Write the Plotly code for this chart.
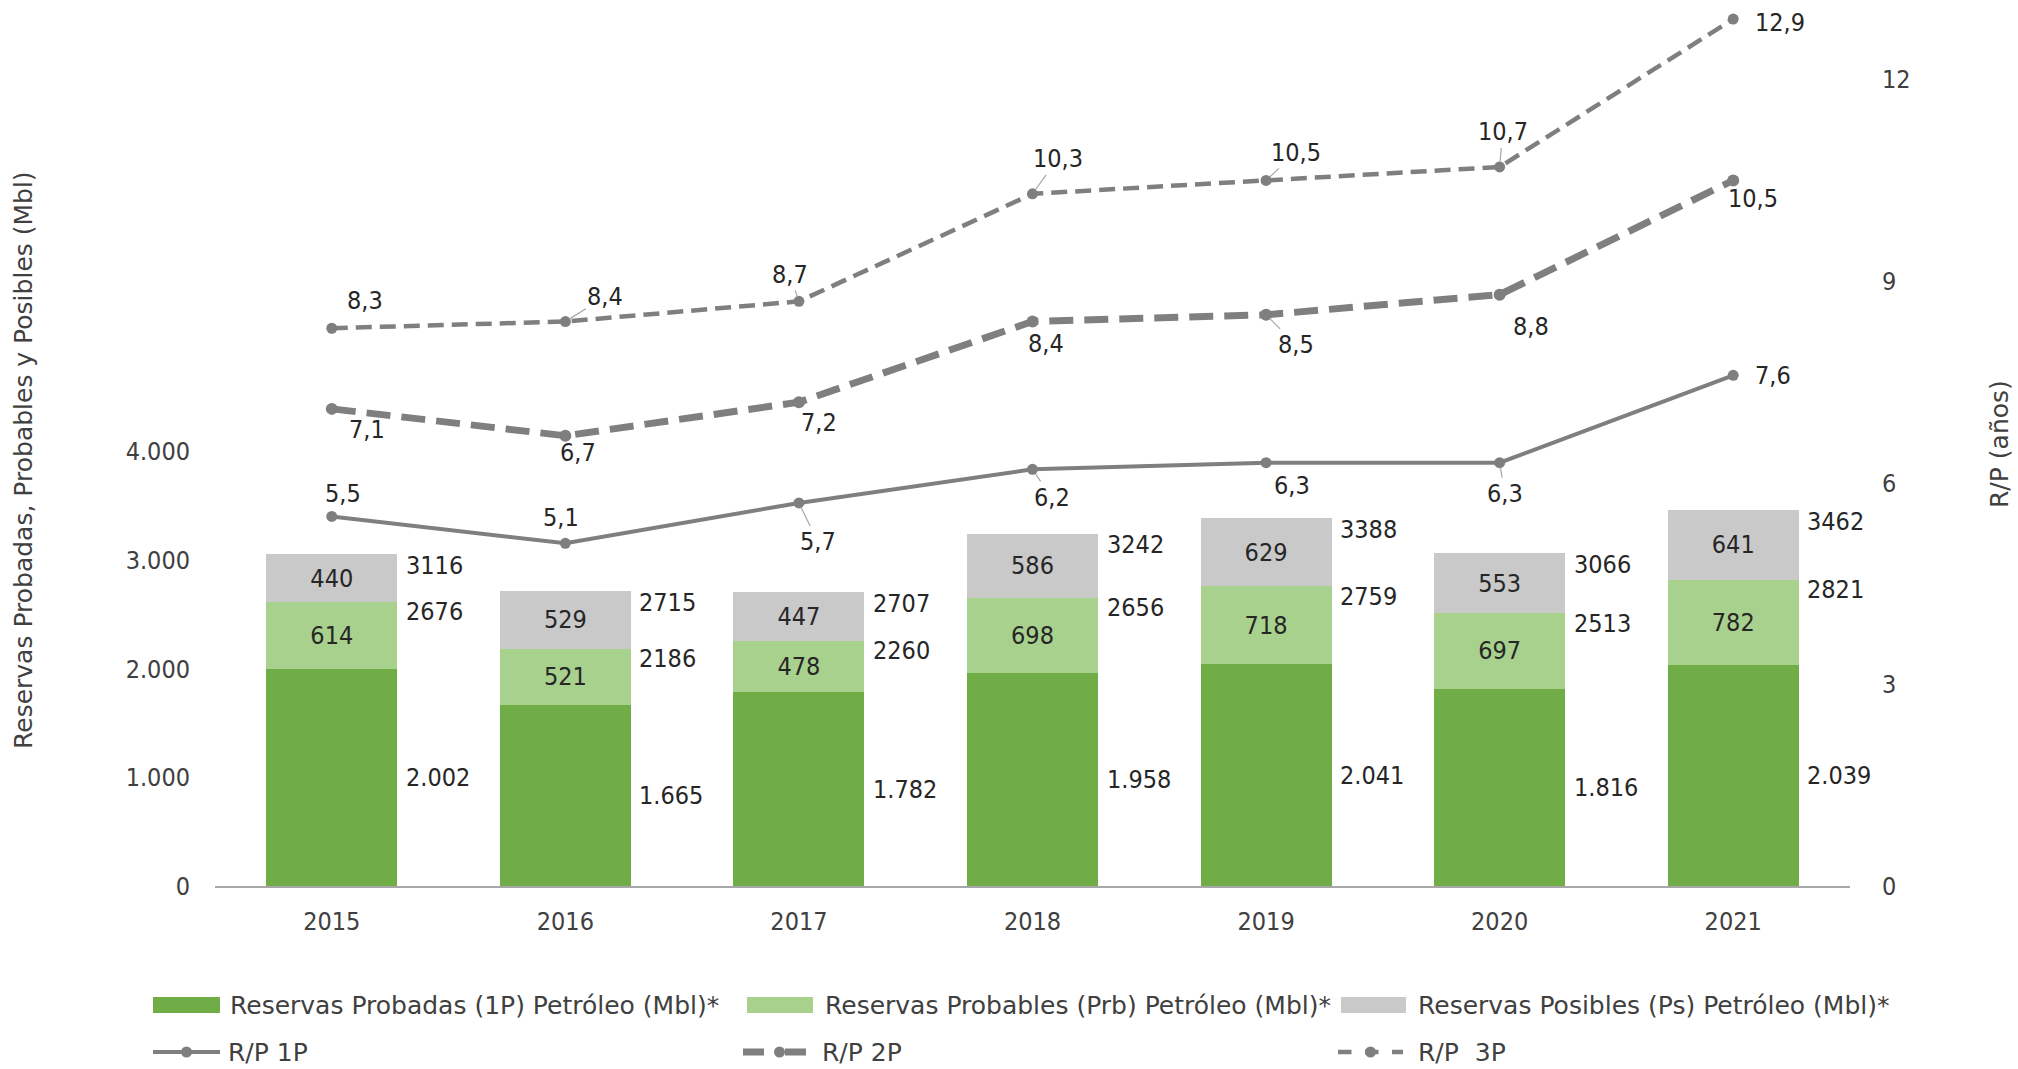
import plotly.graph_objects as go

# ---------------- data ----------------
years = ["2015", "2016", "2017", "2018", "2019", "2020", "2021"]
probadas_1p = [2002, 1665, 1782, 1958, 2041, 1816, 2039]
probables_prb = [614, 521, 478, 698, 718, 697, 782]
posibles_ps = [440, 529, 447, 586, 629, 553, 641]
label_1p = ["2.002", "1.665", "1.782", "1.958", "2.041", "1.816", "2.039"]
label_2p_total = ["2676", "2186", "2260", "2656", "2759", "2513", "2821"]
label_3p_total = ["3116", "2715", "2707", "3242", "3388", "3066", "3462"]
rp_1p = [5.5, 5.1, 5.7, 6.2, 6.3, 6.3, 7.6]
rp_2p = [7.1, 6.7, 7.2, 8.4, 8.5, 8.8, 10.5]
rp_3p = [8.3, 8.4, 8.7, 10.3, 10.5, 10.7, 12.9]
left_tickvals = [0, 1000, 2000, 3000, 4000]
left_ticktext = ["0", "1.000", "2.000", "3.000", "4.000"]
right_tickvals = [0, 3, 6, 9, 12]

# ---------------- style ----------------
C_1P = "#70AD47"
C_PRB = "#A9D18E"
C_PS = "#C9C9C9"
C_LINE = "#7F7F7F"
C_TEXT = "#262626"
C_AXTXT = "#404040"
NUM_FONT = "DejaVu Sans Condensed, DejaVu Sans, sans-serif"
TXT_FONT = "DejaVu Sans, Verdana, sans-serif"
FS = 25

W, H = 2018, 1069
L, R, T, B = 215, 1850, 10, 886


def px(x):
    return (x - L) / (R - L)


def py(y):
    return (B - y) / (B - T)


left_max = (B - T) / 0.1086
right_max = (B - T) / 67.2

fig = go.Figure()

fig.add_trace(go.Bar(x=years, y=probadas_1p, name="Reservas Probadas (1P) Petróleo (Mbl)*",
                     marker=dict(color=C_1P, line=dict(width=0)), showlegend=False))
fig.add_trace(go.Bar(x=years, y=probables_prb, name="Reservas Probables (Prb) Petróleo (Mbl)*",
                     marker=dict(color=C_PRB, line=dict(width=0)), showlegend=False,
                     text=[str(v) for v in probables_prb], textposition="inside",
                     insidetextanchor="middle",
                     textfont=dict(family=NUM_FONT, size=FS, color=C_TEXT)))
fig.add_trace(go.Bar(x=years, y=posibles_ps, name="Reservas Posibles (Ps) Petróleo (Mbl)*",
                     marker=dict(color=C_PS, line=dict(width=0)), showlegend=False,
                     text=[str(v) for v in posibles_ps], textposition="inside",
                     insidetextanchor="middle",
                     textfont=dict(family=NUM_FONT, size=FS, color=C_TEXT)))

line_styles = [
    ("R/P 1P", rp_1p, dict(color=C_LINE, width=4), 11),
    ("R/P 2P", rp_2p, dict(color=C_LINE, width=7, dash="24px,11px"), 12),
    ("R/P  3P", rp_3p, dict(color=C_LINE, width=4.5, dash="16px,8px"), 11),
]
for name, vals, ln, ms in line_styles:
    fig.add_trace(go.Scatter(x=years, y=vals, yaxis="y2", name=name, mode="lines+markers",
                             line=ln, marker=dict(size=ms, color=C_LINE),
                             cliponaxis=False, showlegend=False))

annotations = []

# bar value labels to the right of each bar (x given as category index)
for i, yr in enumerate(years):
    c1 = probadas_1p[i]
    c2 = c1 + probables_prb[i]
    c3 = c2 + posibles_ps[i]
    for yv, txt, ysh in [(c1 / 2, label_1p[i], 0), (c2, label_2p_total[i], -10),
                         (c3, label_3p_total[i], -11)]:
        annotations.append(dict(x=i, y=yv, xref="x", yref="y", text=txt, showarrow=False,
                                xanchor="left", yanchor="middle", xshift=72, yshift=ysh,
                                font=dict(family=NUM_FONT, size=FS, color=C_TEXT)))

# R/P labels: offsets (dx, dy) in pixels and whether a leader line is visible
off_3p = [(33, -28, 0), (40, -25, 1), (-9, -27, 1), (25, -35, 1), (30, -28, 1), (3, -35, 1), (47, 3, 0)]
off_2p = [(35, 21, 0), (13, 17, 0), (20, 20, 0), (13, 22, 0), (30, 30, 1), (31, 32, 0), (20, 18, 0)]
off_1p = [(11, -23, 0), (-4, -26, 0), (19, 39, 1), (19, 28, 1), (26, 23, 0), (5, 31, 1), (40, 0, 0)]
for vals, offs in [(rp_3p, off_3p), (rp_2p, off_2p), (rp_1p, off_1p)]:
    for i, yr in enumerate(years):
        dx, dy, lead = offs[i]
        annotations.append(dict(x=i, y=vals[i], xref="x", yref="y2",
                                text=f"{vals[i]:.1f}".replace(".", ","),
                                showarrow=True, ax=dx, ay=dy, arrowhead=0, arrowwidth=1.2,
                                arrowcolor="#A6A6A6" if lead else "rgba(0,0,0,0)",
                                standoff=5,
                                font=dict(family=NUM_FONT, size=FS, color=C_TEXT)))

# axis titles
annotations.append(dict(x=px(23), y=py(460), xref="paper", yref="paper", showarrow=False,
                        text="Reservas Probadas, Probables y Posibles (Mbl)", textangle=-90,
                        xanchor="center", yanchor="middle",
                        font=dict(family=TXT_FONT, size=FS, color="#404040")))
annotations.append(dict(x=px(2000), y=py(444), xref="paper", yref="paper", showarrow=False,
                        text="R/P (años)", textangle=-90, xanchor="center", yanchor="middle",
                        font=dict(family=TXT_FONT, size=FS, color="#404040")))

# ---------------- legend (drawn) ----------------
shapes = []
legend_bars = [
    (153, 220, 228, C_1P, "Reservas Probadas (1P) Petróleo (Mbl)*"),
    (747, 813, 823, C_PRB, "Reservas Probables (Prb) Petróleo (Mbl)*"),
    (1341, 1406, 1416, C_PS, "Reservas Posibles (Ps) Petróleo (Mbl)*"),
]
for x0, x1, tx, col, txt in legend_bars:
    shapes.append(dict(type="rect", xref="paper", yref="paper", x0=px(x0), x1=px(x1),
                       y0=py(1013), y1=py(997), fillcolor=col, line=dict(width=0)))
    annotations.append(dict(x=px(tx), y=py(1005), xref="paper", yref="paper", text=txt,
                            showarrow=False, xanchor="left", yanchor="middle",
                            font=dict(family=TXT_FONT, size=FS, color=C_AXTXT)))

legend_lines = [
    (153, 220, 226, dict(color=C_LINE, width=4), "R/P 1P"),
    (743, 816, 820, dict(color=C_LINE, width=7, dash="dash"), "R/P 2P"),
    (1338, 1403, 1416, dict(color=C_LINE, width=4.5, dash="dash"), "R/P&nbsp; 3P"),
]
for x0, x1, tx, ln, txt in legend_lines:
    shapes.append(dict(type="line", xref="paper", yref="paper", x0=px(x0), x1=px(x1),
                       y0=py(1052), y1=py(1052), line=ln))
    cx = (x0 + x1) / 2
    shapes.append(dict(type="circle", xref="paper", yref="paper", x0=px(cx - 5.5), x1=px(cx + 5.5),
                       y0=py(1052 + 5.5), y1=py(1052 - 5.5), fillcolor=C_LINE, line=dict(width=0)))
    annotations.append(dict(x=px(tx), y=py(1052), xref="paper", yref="paper", text=txt,
                            showarrow=False, xanchor="left", yanchor="middle",
                            font=dict(family=TXT_FONT, size=FS, color=C_AXTXT)))

fig.update_layout(
    width=W, height=H,
    margin=dict(l=L, r=W - R, t=T, b=H - B, pad=0),
    paper_bgcolor="white", plot_bgcolor="white",
    barmode="stack", bargap=0.439,
    showlegend=False,
    uniformtext=dict(minsize=FS, mode="show"),
    xaxis=dict(type="category", range=[-0.5, 6.5], showline=True, linecolor="#A6A6A6",
               linewidth=2, showgrid=False, ticks="", ticklabelstandoff=12,
               tickfont=dict(family=NUM_FONT, size=FS, color=C_AXTXT)),
    yaxis=dict(range=[0, left_max], tickvals=left_tickvals, ticktext=left_ticktext,
               showgrid=False, zeroline=False, showline=False, ticks="",
               ticklabelstandoff=24,
               tickfont=dict(family=NUM_FONT, size=FS, color=C_AXTXT)),
    yaxis2=dict(range=[0, right_max], tickvals=right_tickvals, overlaying="y", side="right",
                showgrid=False, zeroline=False, showline=False, ticks="",
                ticklabelstandoff=31,
                tickfont=dict(family=NUM_FONT, size=FS, color=C_AXTXT)),
    annotations=annotations,
    shapes=shapes,
)

fig.write_html("out.html", config={"displayModeBar": False},
               post_script="document.body.style.margin='0';document.body.style.overflow='hidden';")
